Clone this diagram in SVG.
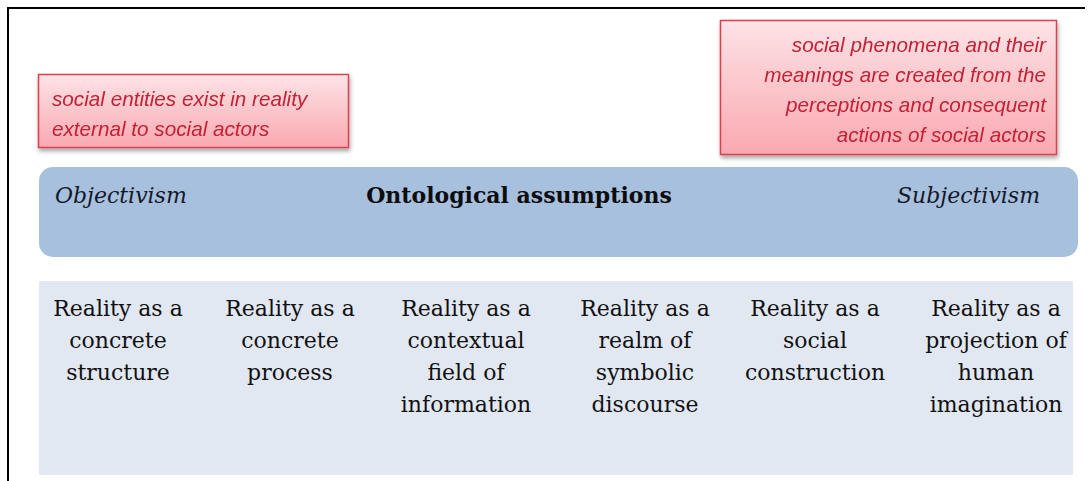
<svg xmlns="http://www.w3.org/2000/svg" width="1089" height="481" viewBox="0 0 1089 481">
  <defs>
    <linearGradient id="pink" x1="0" y1="0" x2="0" y2="1">
      <stop offset="0" stop-color="#fde3e6"/>
      <stop offset="1" stop-color="#f9a9b0"/>
    </linearGradient>
    <filter id="shadow" x="-5%" y="-10%" width="110%" height="130%">
      <feGaussianBlur in="SourceAlpha" stdDeviation="2"/>
      <feOffset dx="1" dy="3" result="b"/>
      <feComponentTransfer><feFuncA type="linear" slope="0.35"/></feComponentTransfer>
      <feMerge><feMergeNode/><feMergeNode in="SourceGraphic"/></feMerge>
    </filter>
  </defs>
  <style>
    .note { fill: url(#pink); stroke: #d8424f; stroke-width: 1.5; }
    .noteText { font-family: "Liberation Sans", Arial, sans-serif; font-style: italic; font-size: 20.7px; fill: #c42036; }
    .cell { font-family: "DejaVu Serif", "Liberation Serif", serif; font-size: 22px; fill: #111; text-anchor: middle; }
    .pole { font-family: "DejaVu Serif", "Liberation Serif", serif; font-style: italic; font-size: 22px; fill: #141828; }
    .title { font-family: "DejaVu Serif", "Liberation Serif", serif; font-weight: bold; font-size: 22px; fill: #0d0d0d; text-anchor: middle; }
  </style>

  <rect width="1089" height="481" fill="#ffffff"/>
  <!-- frame -->
  <path d="M8 481 V8 H1085" fill="none" stroke="#000" stroke-width="2"/>

  <g id="note-objectivism" filter="url(#shadow)">
    <rect class="note" x="38.5" y="74.5" width="310" height="73"/>
    <text class="noteText" x="52" y="106">social entities exist in reality</text>
    <text class="noteText" x="52" y="136">external to social actors</text>
  </g>

  <g id="note-subjectivism" filter="url(#shadow)">
    <rect class="note" x="720.5" y="20.5" width="336" height="134"/>
    <g text-anchor="end">
      <text class="noteText" x="1046" y="52">social phenomena and their</text>
      <text class="noteText" x="1046" y="82">meanings are created from the</text>
      <text class="noteText" x="1046" y="112">perceptions and consequent</text>
      <text class="noteText" x="1046" y="142">actions of social actors</text>
    </g>
  </g>

  <g id="ontology-bar">
    <rect x="39" y="167" width="1039" height="90" rx="14" fill="#a7c0de"/>
    <text class="pole" x="55" y="203">Objectivism</text>
    <text class="title" x="519" y="203">Ontological assumptions</text>
    <text class="pole" x="1040" y="203" text-anchor="end">Subjectivism</text>
  </g>

  <g id="continuum">
    <rect x="39" y="281" width="1034" height="194" fill="#e1e8f2"/>
    <g id="concrete-structure">
      <text class="cell" x="118" y="316">Reality as a</text>
      <text class="cell" x="118" y="348">concrete</text>
      <text class="cell" x="118" y="380">structure</text>
    </g>
    <g id="concrete-process">
      <text class="cell" x="290" y="316">Reality as a</text>
      <text class="cell" x="290" y="348">concrete</text>
      <text class="cell" x="290" y="380">process</text>
    </g>
    <g id="contextual-field">
      <text class="cell" x="466" y="316">Reality as a</text>
      <text class="cell" x="466" y="348">contextual</text>
      <text class="cell" x="466" y="380">field of</text>
      <text class="cell" x="466" y="412">information</text>
    </g>
    <g id="symbolic-discourse">
      <text class="cell" x="645" y="316">Reality as a</text>
      <text class="cell" x="645" y="348">realm of</text>
      <text class="cell" x="645" y="380">symbolic</text>
      <text class="cell" x="645" y="412">discourse</text>
    </g>
    <g id="social-construction">
      <text class="cell" x="815" y="316">Reality as a</text>
      <text class="cell" x="815" y="348">social</text>
      <text class="cell" x="815" y="380">construction</text>
    </g>
    <g id="human-imagination">
      <text class="cell" x="996" y="316">Reality as a</text>
      <text class="cell" x="996" y="348">projection of</text>
      <text class="cell" x="996" y="380">human</text>
      <text class="cell" x="996" y="412">imagination</text>
    </g>
  </g>
</svg>
